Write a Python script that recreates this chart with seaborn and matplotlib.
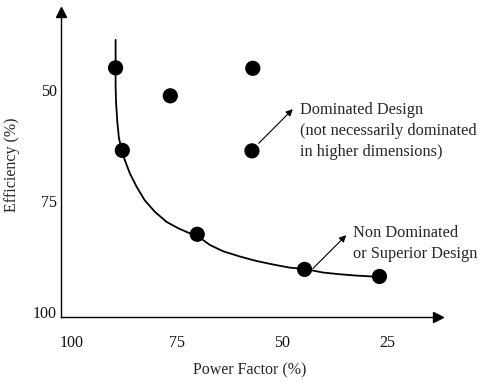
import matplotlib
matplotlib.use("Agg")
import matplotlib.pyplot as plt
import seaborn as sns
import pandas as pd

# Design points (Power Factor %, Efficiency %)
power_factor = [89.6, 57.0, 76.6, 57.2, 88.0, 70.2, 44.7, 26.9]
efficiency = [45.0, 45.1, 51.3, 63.7, 63.6, 82.5, 90.4, 92.0]

# Pareto front curve
curve_pf = [89.6, 89.6, 89.6, 89.5, 89.2, 88.8, 88.1, 87.4, 86.2, 84.6,
            82.7, 80.3, 77.5, 74.8, 72.4, 70.4, 67.2, 64.1, 60.1, 56.2,
            52.2, 48.3, 44.7, 40.4, 36.4, 32.4, 26.9]
curve_eff = [38.7, 44.9, 48.9, 52.6, 57.1, 60.9, 63.5, 65.8, 68.8, 71.8,
             74.8, 77.4, 79.7, 81.1, 82.1, 82.7, 84.9, 86.3, 87.5, 88.5,
             89.3, 90.0, 90.3, 91.1, 91.5, 91.8, 92.1]

x_ticks = [100, 75, 50, 25]
y_ticks = [50, 75, 100]

sns.set_theme(style="white")
plt.rcParams["font.family"] = ["Liberation Serif", "DejaVu Serif"]

fig = plt.figure(figsize=(4.91, 3.85), dpi=100)
ax = fig.add_axes([0.124, 0.177, 0.768, 0.792])

pts = pd.DataFrame({"pf": power_factor, "eff": efficiency})
crv = pd.DataFrame({"pf": curve_pf, "eff": curve_eff})

sns.lineplot(data=crv, x="pf", y="eff", sort=False, estimator=None,
             color="black", lw=1.3, ax=ax, zorder=2)
sns.scatterplot(data=pts, x="pf", y="eff", color="black", s=120, edgecolor="none", ax=ax, zorder=3)

ax.set_xlim(102.6, 13.0)
ax.set_ylim(101.1, 32.4)
ax.set_xticks(x_ticks)
ax.set_xticklabels([str(v) for v in x_ticks])
ax.set_yticks(y_ticks)
ax.set_yticklabels([str(v) for v in y_ticks])
ax.tick_params(axis="both", length=0, labelsize=11.5, colors="#111111")
ax.tick_params(axis="x", pad=13)
ax.tick_params(axis="y", pad=3)

for s in ["top", "right"]:
    ax.spines[s].set_visible(False)
for s in ["left", "bottom"]:
    ax.spines[s].set_color("black")
    ax.spines[s].set_linewidth(1.0)

ax.plot(1.0, 0, marker=">", color="black", ms=7, transform=ax.transAxes, clip_on=False)
ax.plot(0, 1.0, marker="^", color="black", ms=7, transform=ax.transAxes, clip_on=False)

ax.set_xlabel("Power Factor (%)", fontsize=11.5, labelpad=8)
ax.set_ylabel("Efficiency (%)", fontsize=11.5)
ax.yaxis.set_label_coords(-0.109, 0.5)

arrow = dict(arrowstyle="-|>", lw=0.8, color="black", mutation_scale=10, shrinkA=0, shrinkB=0)
ax.annotate("", xy=(47.5, 54.3), xytext=(55.6, 62.0), arrowprops=arrow)
ax.annotate("", xy=(34.8, 82.7), xytext=(42.7, 90.2), arrowprops=arrow)

ax.text(45.9, 59.2, "Dominated Design\n(not necessarily dominated\nin higher dimensions)",
        fontsize=11.8, ha="left", va="center", linespacing=1.4)
ax.text(33.2, 84.5, "Non Dominated\nor Superior Design",
        fontsize=11.8, ha="left", va="center", linespacing=1.4)

fig.savefig("out.png", dpi=100)
